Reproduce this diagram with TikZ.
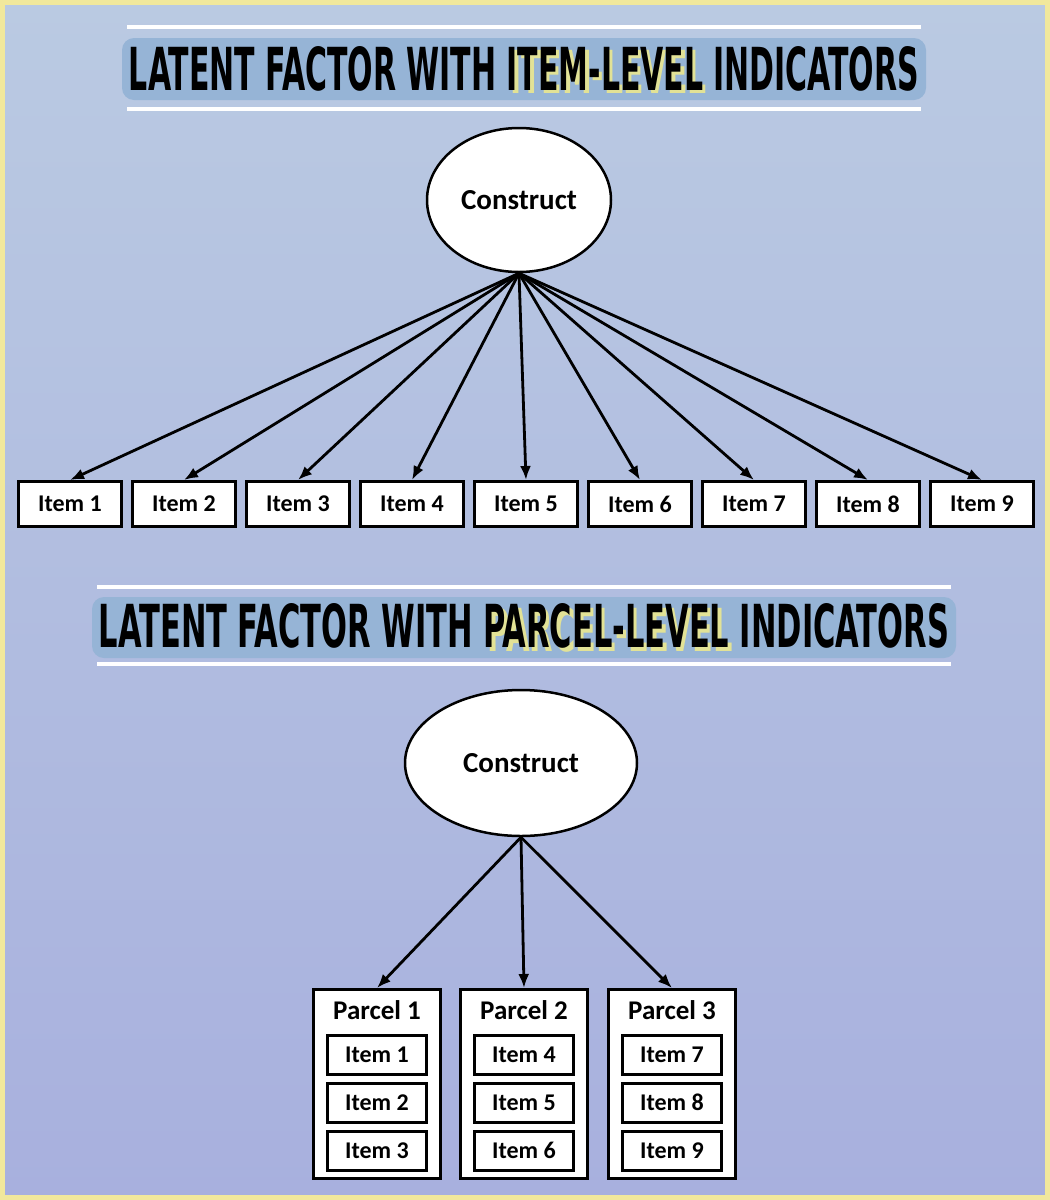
\documentclass[tikz,border=0pt]{standalone}
\usepackage{fontspec}
\setmainfont{Carlito}
\newfontfamily\titlefont{DejaVu Sans Condensed}[BoldFont={DejaVu Sans Condensed Bold}]
\usetikzlibrary{shapes.geometric}
\usetikzlibrary{positioning}
\usetikzlibrary{calc}
\usetikzlibrary{arrows.meta}

\definecolor{bgtop}{RGB}{186,202,226}
\definecolor{bgbot}{RGB}{168,176,222}
\definecolor{frameyel}{RGB}{241,232,156}
\definecolor{bandblue}{RGB}{150,180,214}
\definecolor{hiyel}{RGB}{226,226,150}

% marker highlight behind a word
\newcommand{\hlword}[1]{\makebox[0pt][l]{\kern1pt\raisebox{-0.6pt}{\color{hiyel}#1}}#1}
\newcommand{\titletext}[2]{\resizebox{#1}{44pt}{\titlefont\bfseries #2}}

\tikzset{
    construct/.style={draw, line width=2.5pt, fill=white, ellipse, font=\fontsize{29}{33}\selectfont\bfseries},
    item/.style={draw, line width=3pt, fill=white, minimum width=103pt, minimum height=45pt, font=\fontsize{24}{28}\selectfont\bfseries},
    subitem/.style={item, minimum width=99pt, minimum height=39pt},
    parcel/.style={draw, line width=3pt, fill=white, minimum width=127pt, minimum height=189pt},
    load/.style={line width=2.8pt, -{Latex[length=14pt,width=11pt]}},
    title/.style={inner sep=0pt}
}

\begin{document}
\begin{tikzpicture}[x=1pt, y=-1pt]
    \useasboundingbox (0,0) rectangle (1050,1200);
    \shade[top color=bgtop, bottom color=bgbot] (0,0) rectangle (1050,1200);
    \draw[frameyel, line width=10pt] (0,0) rectangle (1050,1200);

    % titles
    \fill[bandblue, rounded corners=12pt] (122,38) rectangle (926,100);
    \draw[white, line width=4pt] (127,27) -- (921,27);
    \draw[white, line width=4pt] (127,109) -- (921,109);
    \node[title] (title1) at (524,70) {\titletext{790pt}{LATENT FACTOR WITH \hlword{ITEM-LEVEL} INDICATORS}};

    \fill[bandblue, rounded corners=12pt] (92,597) rectangle (956,658);
    \draw[white, line width=4pt] (97,587) -- (951,587);
    \draw[white, line width=4pt] (97,664) -- (951,664);
    \node[title] (title2) at (524,628) {\titletext{850pt}{LATENT FACTOR WITH \hlword{PARCEL-LEVEL} INDICATORS}};

    % item-level model
    \node[construct, minimum width=184pt, minimum height=144pt] (c1) at (519,200) {Construct};
    \foreach \i in {1,...,9} {
        \node[item] (i\i) at ({70+114*(\i-1)},504) {Item \i};
        \draw[load] (c1.south) -- (i\i.north);
    }

    % parcel-level model
    \node[construct, minimum width=232pt, minimum height=146pt] (c2) at (521,763) {Construct};
    \foreach \p/\x in {1/377, 2/524, 3/672} {
        \node[parcel] (p\p) at (\x,1084) {};
        \node[font=\fontsize{27}{31}\selectfont\bfseries, below=9pt of p\p.north] {Parcel \p};
        \draw[load] (c2.south) -- (p\p.north);
    }
    \foreach \p in {1,2,3} {
        \foreach \k [evaluate=\k as \n using int(3*(\p-1)+\k)] in {1,2,3} {
            \node[subitem] (s\n) at ($(p\p.north)+(0,{18.5+48*\k})$) {Item \n};
        }
    }
\end{tikzpicture}
\end{document}
